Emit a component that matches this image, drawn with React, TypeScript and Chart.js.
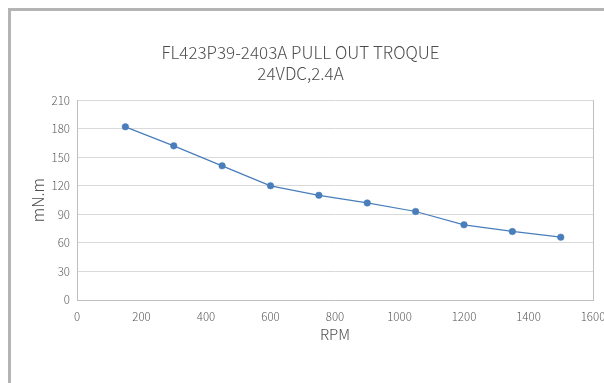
import React, { useEffect, useRef } from "react";
import { Chart, registerables } from "chart.js";

Chart.register(...registerables);

// ---- data ----
const rpm = [150, 300, 450, 600, 750, 900, 1050, 1200, 1350, 1500];
const torque = [182, 162, 141, 120, 110, 102, 93, 79, 72, 66];
const titleLines = ["FL423P39-2403A PULL OUT TROQUE", "24VDC,2.4A"];
const xTitle = "RPM";
const yTitle = "mN.m";
const xRange = [0, 1600];
const xStep = 200;
const yRange = [0, 210];
const yStep = 30;

const FONT = "'Noto Sans CJK SC', 'Liberation Sans', sans-serif";
const TEXT = "#4D4D4D";
const TICK = "#595959";
const AXIS = "#BFBFBF";
const GRID = "#D9D9D9";
const BLUE = "#4A7EBB";

export default function App() {
  const ref = useRef<HTMLCanvasElement | null>(null);

  useEffect(() => {
    if (!ref.current) return;
    const chart = new Chart(ref.current, {
      type: "line",
      data: {
        datasets: [
          {
            data: rpm.map((x, i) => ({ x, y: torque[i] })),
            borderColor: BLUE,
            backgroundColor: BLUE,
            borderWidth: 1.25,
            pointRadius: 3.3,
            pointBackgroundColor: BLUE,
            pointBorderColor: BLUE,
            pointBorderWidth: 0.5,
            tension: 0,
            fill: false,
          },
        ],
      },
      options: {
        responsive: false,
        animation: false,
        layout: { padding: { left: 0, right: 11, top: 0, bottom: 0 } },
        plugins: {
          legend: { display: false },
          tooltip: { enabled: false },
          title: {
            display: true,
            text: titleLines,
            color: TEXT,
            font: { family: FONT, size: 17, weight: "300", lineHeight: 1.24 },
            padding: { top: 34, bottom: 16 },
          },
        },
        scales: {
          x: {
            type: "linear",
            min: xRange[0],
            max: xRange[1],
            ticks: {
              stepSize: xStep,
              color: TICK,
              font: { family: FONT, size: 11.5, weight: "300" },
              padding: 10,
              maxRotation: 0,
              autoSkip: false,
              callback: (v: any) => String(v),
            },
            grid: {
              drawTicks: false,
              color: (c: any) =>
                c.tick && c.tick.value === xRange[1] ? AXIS : "rgba(0,0,0,0)",
              lineWidth: 1,
            },
            border: { display: true, color: AXIS, width: 1 },
            title: {
              display: true,
              text: xTitle,
              color: TEXT,
              font: { family: FONT, size: 15, weight: "300", lineHeight: 1.2 },
              padding: { top: 0, bottom: 40 },
            },
            afterFit: (s: any) => {
              s.height = 83;
              s.paddingRight = 0;
            },
          },
          y: {
            min: yRange[0],
            max: yRange[1],
            ticks: {
              stepSize: yStep,
              color: TICK,
              font: { family: FONT, size: 11.5, weight: "300" },
              padding: 7,
              callback: (v: any) => String(v),
            },
            grid: { drawTicks: false, color: GRID, lineWidth: 1 },
            border: { display: true, color: AXIS, width: 1 },
            title: {
              display: true,
              text: yTitle,
              color: TEXT,
              font: { family: FONT, size: 16, weight: "300", lineHeight: 1.2 },
              padding: { top: 20, bottom: 0 },
            },
            afterFit: (s: any) => {
              s.width = 69;
            },
          },
        },
      },
    });
    return () => chart.destroy();
  }, []);

  return (
    <div
      style={{
        position: "fixed",
        left: 8,
        top: 8,
        width: 596,
        height: 375,
        overflow: "hidden",
        background: "#fff",
      }}
    >
      <div
        style={{
          position: "absolute",
          left: 0,
          top: 0,
          width: 800,
          height: 600,
          borderLeft: "3px solid #B4B4B4",
          borderTop: "3px solid #B4B4B4",
        }}
      />
      <canvas
        ref={ref}
        width={596}
        height={375}
        style={{ position: "absolute", left: 0, top: 0, display: "block" }}
      />
    </div>
  );
}
